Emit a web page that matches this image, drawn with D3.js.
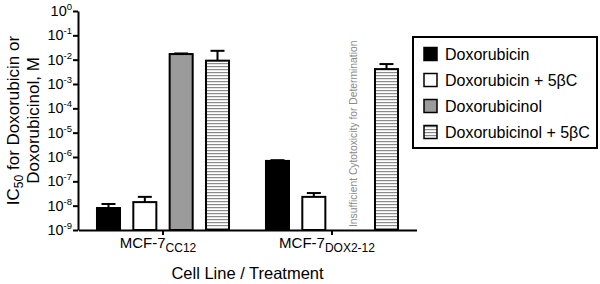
<!DOCTYPE html>
<html>
<head>
<meta charset="utf-8">
<script src="https://cdn.jsdelivr.net/npm/d3@7"></script>
<style>
  body { margin: 0; background: #fff; }
  svg { display: block; font-family: "Liberation Sans", Arial, sans-serif; }
</style>
</head>
<body>
<div id="chart"></div>
<script>
// Data (IC50 in M, upper error = SEM)
const cellLines = ["CC12", "DOX2-12"];
const treatments = ["Doxorubicin", "Doxorubicin + 5\u03B2C", "Doxorubicinol", "Doxorubicinol + 5\u03B2C"];
const doxorubicin = [8.0e-9, 6.9e-7];
const doxorubicinPlus5bC = [1.4e-8, 2.3e-8];
const doxorubicinol = [1.7e-2, null];
const doxorubicinolPlus5bC = [9.1e-3, 4.1e-3];
const doxorubicinErr = [3.7e-9, 5.0e-8];
const doxorubicinPlus5bCErr = [9.0e-9, 1.0e-8];
const doxorubicinolErr = [1.0e-3, null];
const doxorubicinolPlus5bCErr = [1.4e-2, 2.5e-3];
const yTicks = [0, -1, -2, -3, -4, -5, -6, -7, -8, -9];
const missingNote = "Insufficient Cytotoxicity for Determination";

const seriesValues = [doxorubicin, doxorubicinPlus5bC, doxorubicinol, doxorubicinolPlus5bC];
const seriesErrors = [doxorubicinErr, doxorubicinPlus5bCErr, doxorubicinolErr, doxorubicinolPlus5bCErr];

const width = 600, height = 284;

const svg = d3.select('#chart')
    .append('svg')
    .attr('width', width)
    .attr('height', height);

// Horizontal stripe pattern for the "+ 5βC" doxorubicinol bars
const defs = svg.append('defs');
const pattern = defs.append('pattern')
    .attr('id', 'stripes')
    .attr('patternUnits', 'userSpaceOnUse')
    .attr('width', 6)
    .attr('height', 3);
pattern.append('rect').attr('width', 6).attr('height', 3).attr('fill', '#fff');
pattern.append('rect').attr('y', 0).attr('width', 6).attr('height', 1.2).attr('fill', '#8a8a8a');

const fills = ['#000', '#fff', '#9b9b9b', 'url(#stripes)'];

// Scales
const y = d3.scaleLog()
    .domain([1e-9, 1])
    .range([230, 11]);

const x0 = d3.scaleBand()
    .domain(cellLines)
    .range([78.5, 416.5])
    .paddingInner(0.14)
    .paddingOuter(0.07);

const x1 = d3.scaleBand()
    .domain(treatments)
    .range([0, x0.bandwidth()])
    .paddingInner(0.311)
    .paddingOuter(0.1555);

// Bars
const barData = [];
cellLines.forEach((c, gi) => {
    treatments.forEach((t, si) => {
        barData.push({cell: c, treatment: t, si, value: seriesValues[si][gi], err: seriesErrors[si][gi]});
    });
});

const g = svg.append('g');

// Error bars (upper only)
const withVal = barData.filter(d => d.value != null);
g.selectAll('.err')
    .data(withVal)
    .enter()
    .append('line')
    .attr('x1', d => x0(d.cell) + x1(d.treatment) + x1.bandwidth() / 2)
    .attr('x2', d => x0(d.cell) + x1(d.treatment) + x1.bandwidth() / 2)
    .attr('y1', d => y(d.value))
    .attr('y2', d => y(d.value + d.err))
    .attr('stroke', '#000')
    .attr('stroke-width', 2);

g.selectAll('.cap')
    .data(withVal)
    .enter()
    .append('line')
    .attr('x1', d => x0(d.cell) + x1(d.treatment) + x1.bandwidth() / 2 - 7)
    .attr('x2', d => x0(d.cell) + x1(d.treatment) + x1.bandwidth() / 2 + 7)
    .attr('y1', d => y(d.value + d.err))
    .attr('y2', d => y(d.value + d.err))
    .attr('stroke', '#000')
    .attr('stroke-width', 2);

g.selectAll('.bar')
    .data(withVal)
    .enter()
    .append('rect')
    .attr('class', 'bar')
    .attr('x', d => x0(d.cell) + x1(d.treatment) + 1)
    .attr('y', d => y(d.value))
    .attr('width', x1.bandwidth() - 2)
    .attr('height', d => y(1e-9) - y(d.value))
    .attr('fill', d => fills[d.si])
    .attr('stroke', '#000')
    .attr('stroke-width', 2);

// Note where the value is missing
barData.filter(d => d.value == null).forEach(d => {
    const cx = x0(d.cell) + x1(d.treatment) + x1.bandwidth() / 2 + 3;
    svg.append('text')
        .attr('transform', `translate(${cx},227) rotate(-90)`)
        .attr('font-size', 10.3)
        .attr('fill', '#8a8a8a')
        .attr('dy', '0.35em')
        .text(missingNote);
});

// Y axis
const yAxis = svg.append('g')
    .attr('transform', 'translate(78,0)')
    .call(d3.axisLeft(y)
        .tickValues(yTicks.map(e => Math.pow(10, e)))
        .tickSize(5)
        .tickSizeOuter(0)
        .tickFormat(''));
yAxis.select('.domain').attr('stroke-width', 2);
yAxis.selectAll('.tick line').attr('stroke-width', 2);

const yLabels = svg.append('g').selectAll('text')
    .data(yTicks)
    .enter()
    .append('text')
    .attr('x', 72)
    .attr('y', e => y(Math.pow(10, e)) + 5)
    .attr('text-anchor', 'end')
    .attr('font-size', 14.5)
    .attr('fill', '#000');
yLabels.append('tspan').text('10');
yLabels.append('tspan')
    .attr('font-size', 9.5)
    .attr('dy', -6)
    .text(e => e === 0 ? '0' : '-' + Math.abs(e));

// X axis
const xAxis = svg.append('g')
    .attr('transform', 'translate(0,230)')
    .call(d3.axisBottom(x0).tickSize(5).tickSizeOuter(0).tickFormat(''));
xAxis.select('.domain').attr('stroke-width', 2);
xAxis.selectAll('.tick line').attr('stroke-width', 2);

const xLabels = svg.append('g').selectAll('text')
    .data(cellLines)
    .enter()
    .append('text')
    .attr('x', d => x0(d) + x0.bandwidth() / 2 - 5)
    .attr('y', 248)
    .attr('text-anchor', 'middle')
    .attr('font-size', 15)
    .attr('fill', '#000');
xLabels.append('tspan').text('MCF-7');
xLabels.append('tspan').attr('font-size', 12).attr('dy', 4).text(d => d);

// Axis titles
svg.append('text')
    .attr('x', (78.5 + 416.5) / 2)
    .attr('y', 279)
    .attr('text-anchor', 'middle')
    .attr('font-size', 16.5)
    .text('Cell Line / Treatment');

const yTitle = svg.append('text')
    .attr('transform', `translate(19,${(11 + 230) / 2}) rotate(-90)`)
    .attr('text-anchor', 'middle')
    .attr('font-size', 17);
yTitle.append('tspan').text('IC');
yTitle.append('tspan').attr('font-size', 12).attr('dy', 4).text('50');
yTitle.append('tspan').attr('dy', -4).text(' for Doxorubicin or');
svg.append('text')
    .attr('transform', `translate(39,${(11 + 230) / 2}) rotate(-90)`)
    .attr('text-anchor', 'middle')
    .attr('font-size', 17)
    .text('Doxorubicinol, M');

// Legend
const legend = svg.append('g').attr('transform', 'translate(413,37)');
legend.append('rect')
    .attr('width', 184)
    .attr('height', 111)
    .attr('fill', '#fff')
    .attr('stroke', '#000')
    .attr('stroke-width', 2);
const items = legend.selectAll('.item')
    .data(treatments)
    .enter()
    .append('g')
    .attr('transform', (d, i) => `translate(10,${17 + i * 26})`);
items.append('rect')
    .attr('x', 1)
    .attr('y', -6.5)
    .attr('width', 13)
    .attr('height', 13)
    .attr('fill', (d, i) => fills[i])
    .attr('stroke', '#000')
    .attr('stroke-width', 1.5);
items.append('text')
    .attr('x', 22)
    .attr('y', 6)
    .attr('font-size', 16)
    .text(d => d);
</script>
</body>
</html>
